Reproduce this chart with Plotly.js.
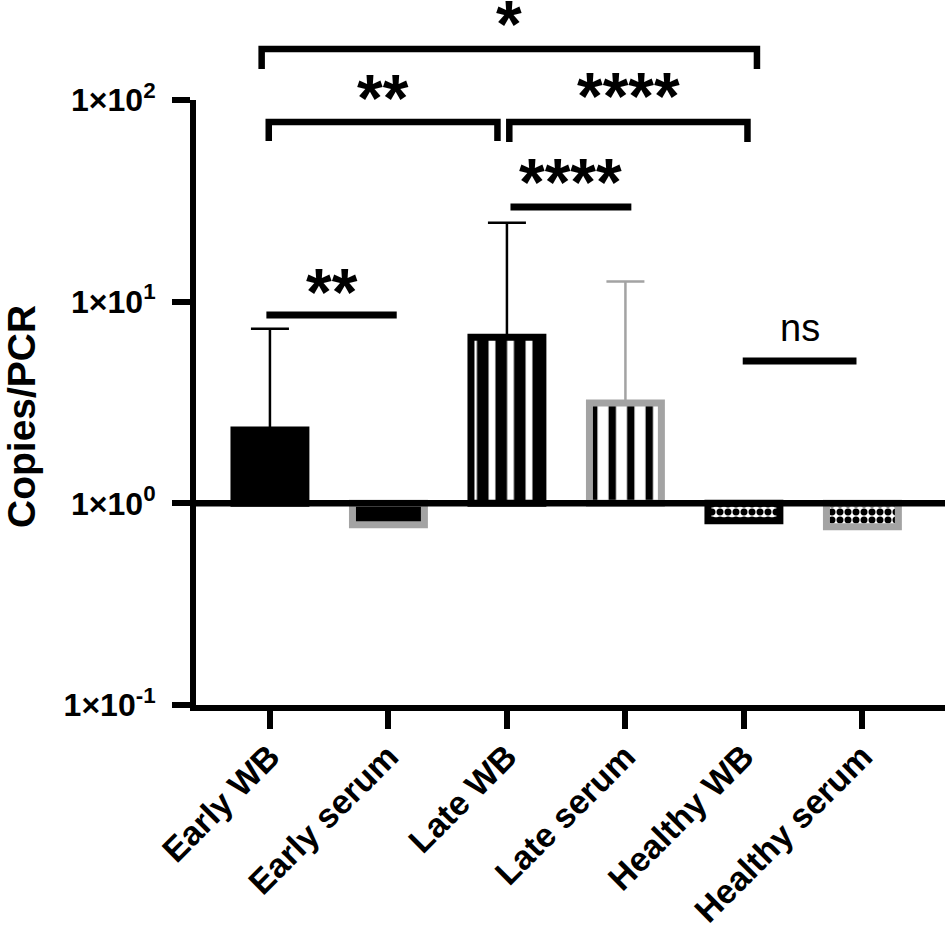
<!DOCTYPE html>
<html>
<head>
<meta charset="utf-8">
<script src="https://cdn.plot.ly/plotly-3.0.1.min.js"></script>
<style>
  html, body { margin: 0; padding: 0; background: #fff; }
  #chart { width: 950px; height: 934px; }
</style>
</head>
<body>
<div id="chart"></div>
<script>
// ---- data ----
const categories = ['Early WB', 'Early serum', 'Late WB', 'Late serum', 'Healthy WB', 'Healthy serum'];
const meanValues = [2.31, 0.783, 6.67, 3.14, 0.819, 0.765];
const upperErrorValues = [7.35, null, 24.6, 12.6, null, null];   // mean + SD
const yTickValues = [0.1, 1, 10, 100];
const yTickLabels = ['1×10<sup>-1</sup>', '1×10<sup>0</sup>', '1×10<sup>1</sup>', '1×10<sup>2</sup>'];
const yTitle = 'Copies/PCR';
const sigLabels = ['*', '**', '****', '****', '**', 'ns'];
const sigPairs = [[0, 4], [0, 2], [2, 4], [2, 3], [0, 1], [4, 5]];
const baseline = 1;

// ---- styles ----
const GRAY = '#a3a3a3';
const FONT = 'Arial, "Liberation Sans", sans-serif';
const X_RANGE = [-0.624, 5.697];
const barStyles = [
  { color: 'black', line: 'black', pattern: null, err: 'black' },
  { color: 'black', line: GRAY, pattern: null, err: 'black' },
  { color: 'white', line: 'black', pattern: { shape: '|', fgcolor: 'black', bgcolor: 'white', size: 18.5, solidity: 0.63 }, err: 'black' },
  { color: 'white', line: GRAY, pattern: { shape: '|', fgcolor: 'black', bgcolor: 'white', size: 18.5, solidity: 0.4 }, err: GRAY },
  { color: 'white', line: 'black', pattern: { shape: '.', fgcolor: 'black', bgcolor: 'white', size: 8, solidity: 0.6 }, err: 'black' },
  { color: 'white', line: GRAY, pattern: { shape: '.', fgcolor: 'black', bgcolor: 'white', size: 8, solidity: 0.6 }, err: 'black' }
];
// bracket layout: end offsets (category units), top level & drop (px from top of figure)
const bracketLayout = [
  { dl: -0.07, dr: 0.11, top: 49, drop: 20, textY: 16, size: 66, bold: true },
  { dl: -0.01, dr: -0.08, top: 122, drop: 19, textY: 90, size: 66, bold: true },
  { dl: 0.02, dr: 0.03, top: 122, drop: 20, textY: 88, size: 66, bold: true },
  { dl: 0.03, dr: 0.05, top: 207, drop: 0, textY: 174, size: 66, bold: true },
  { dl: -0.03, dr: 0.07, top: 315, drop: 0, textY: 284, size: 66, bold: true },
  { dl: -0.01, dr: -0.05, top: 361, drop: 0, textY: 331, size: 38, bold: false }
];

const M = { l: 196, r: 5, t: 100, b: 229 };
const W = 950, H = 934;
const plotW = W - M.l - M.r;
const plotH = H - M.t - M.b;
const py2paper = p => (H - M.b - p) / plotH;
const px2paper = p => (p - M.l) / plotW;

const xIdx = categories.map((_, i) => i);

const traces = categories.map((cat, i) => {
  const st = barStyles[i];
  const marker = { color: st.color, line: { color: st.line, width: 7 } };
  if (st.pattern) marker.pattern = st.pattern;
  const t = {
    type: 'bar',
    x: [xIdx[i]],
    y: [meanValues[i] - baseline],
    base: baseline,
    width: 0.607,
    marker: marker,
    showlegend: false,
    hoverinfo: 'skip'
  };
  if (upperErrorValues[i] !== null) {
    t.error_y = {
      type: 'data', symmetric: false,
      array: [upperErrorValues[i] - meanValues[i]], arrayminus: [0],
      color: st.err, thickness: 2.5, width: 19
    };
  }
  return t;
});

// baseline line at y = 1, drawn over the bars
traces.push({
  type: 'scatter', mode: 'lines',
  x: X_RANGE, y: [baseline, baseline],
  line: { color: 'black', width: 6.5 },
  cliponaxis: false, showlegend: false, hoverinfo: 'skip'
});

const shapes = [];
const annotations = [];

sigPairs.forEach((pair, k) => {
  const b = bracketLayout[k];
  const xl = xIdx[pair[0]] + b.dl;
  const xr = xIdx[pair[1]] + b.dr;
  const yt = py2paper(b.top);
  const yb = py2paper(b.top + b.drop);
  if (b.drop > 0) {
    shapes.push({
      type: 'path', xref: 'x', yref: 'paper',
      path: `M ${xl},${yb} L ${xl},${yt} L ${xr},${yt} L ${xr},${yb}`,
      line: { color: 'black', width: 6.5 }, layer: 'above'
    });
  } else {
    shapes.push({
      type: 'line', xref: 'x', yref: 'paper', x0: xl, x1: xr, y0: yt, y1: yt,
      line: { color: 'black', width: 7 }, layer: 'above'
    });
  }
  const shift = b.bold ? 0.12 * b.size : -0.087 * b.size;
  annotations.push({
    xref: 'x', yref: 'paper', x: (xl + xr) / 2, y: py2paper(b.textY + shift),
    text: sigLabels[k], showarrow: false, xanchor: 'center', yanchor: 'middle',
    font: { family: FONT, size: b.size, color: 'black', weight: b.bold ? 'bold' : 'normal' }
  });
});

// y-axis title placed as a rotated annotation
annotations.push({
  xref: 'paper', yref: 'paper', x: px2paper(22), y: py2paper(417),
  text: yTitle, textangle: -90, showarrow: false, xanchor: 'center', yanchor: 'middle',
  font: { family: FONT, size: 39, color: 'black', weight: 'bold' }
});

const layout = {
  width: W, height: H,
  margin: M,
  paper_bgcolor: 'white', plot_bgcolor: 'white',
  barmode: 'overlay',
  showlegend: false,
  font: { family: FONT, color: 'black' },
  xaxis: {
    type: 'linear',
    range: X_RANGE,
    tickvals: xIdx, ticktext: categories,
    tickangle: -45,
    ticks: 'outside', ticklen: 18, tickwidth: 6, tickcolor: 'black',
    ticklabelstandoff: -6,
    showline: true, linewidth: 6, linecolor: 'black',
    showgrid: false, zeroline: false,
    tickfont: { family: FONT, size: 34, color: 'black', weight: 'bold' }
  },
  yaxis: {
    type: 'log',
    range: [-1, 2],
    tickvals: yTickValues, ticktext: yTickLabels,
    ticks: 'outside', ticklen: 18, tickwidth: 6, tickcolor: 'black',
    ticklabelstandoff: 10,
    showline: true, linewidth: 6, linecolor: 'black',
    showgrid: false, zeroline: false,
    tickfont: { family: FONT, size: 32, color: 'black', weight: 'bold' }
  },
  shapes: shapes,
  annotations: annotations
};

Plotly.newPlot('chart', traces, layout, { displayModeBar: false, staticPlot: true });
</script>
</body>
</html>
